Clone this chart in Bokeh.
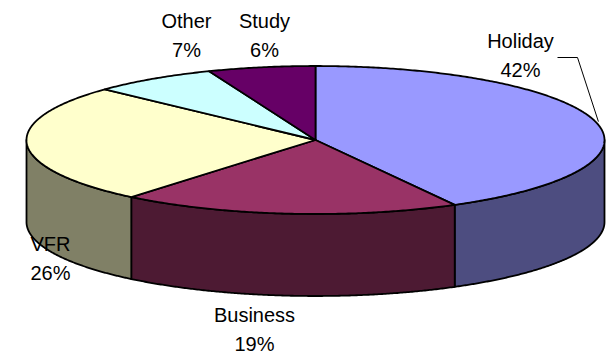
import numpy as np
from bokeh.plotting import figure
from bokeh.models import Range1d
from bokeh.core.properties import value
from bokeh.embed import file_html
from bokeh.resources import INLINE

# ---- data ----
categories = ["Holiday", "Business", "VFR", "Other", "Study"]
shares = [42, 19, 26, 7, 6]
pct_labels = ["42%", "19%", "26%", "7%", "6%"]
top_colors = ["#9999FF", "#993366", "#FFFFCC", "#CCFFFF", "#660066"]
side_colors = ["#4D4D80", "#4D1A33", "#808066", "#668080", "#330033"]

# ---- layout (pixels) ----
W, H = 616, 356
CX, CY, RX, RY, DEPTH = 315.0, 139.5, 289.0, 74.0, 82.0
LABEL_POS = {
    "Holiday": (520, 40),
    "Business": (254, 314),
    "VFR": (50, 243),
    "Other": (186, 20),
    "Study": (264, 20),
}
LINE_GAP = 29
FONT = "Liberation Sans"
FSIZE = "20px"


def pt(theta_deg, dy=0.0):
    t = np.radians(theta_deg)
    return CX + RX * np.sin(t), CY - RY * np.cos(t) + dy


p = figure(width=W, height=H, output_backend="svg", toolbar_location=None,
           x_range=Range1d(0, W), y_range=Range1d(H, 0),
           x_axis_location=None, y_axis_location=None, min_border=0)
p.grid.visible = False
p.outline_line_color = None
p.background_fill_color = "white"
p.border_fill_color = "white"

# slice angles (clockwise from 12 o'clock)
total = float(sum(shares))
bounds = np.concatenate([[0.0], np.cumsum(shares) / total * 360.0])

# side walls (front half only: 90..270 deg)
sxs, sys, scol = [], [], []
for i in range(len(categories)):
    a1, a2 = bounds[i], bounds[i + 1]
    lo, hi = max(a1, 90.0), min(a2, 270.0)
    if hi <= lo:
        continue
    th = np.linspace(lo, hi, 200)
    tx, ty = pt(th)
    bx, by = pt(th[::-1], DEPTH)
    sxs.append(list(tx) + list(bx))
    sys.append(list(ty) + list(by))
    scol.append(side_colors[i])
p.patches(xs=sxs, ys=sys, fill_color=scol, line_color="black", line_width=1.8,
          line_join="round")

# top faces
txs, tys = [], []
for i in range(len(categories)):
    a1, a2 = bounds[i], bounds[i + 1]
    th = np.linspace(a1, a2, max(int((a2 - a1) * 2), 10))
    ax, ay = pt(th)
    txs.append([CX] + list(ax))
    tys.append([CY] + list(ay))
p.patches(xs=txs, ys=tys, fill_color=top_colors, line_color="black",
          line_width=1.8, line_join="round")

# leader line for Holiday
mid = (bounds[0] + bounds[1]) / 2
ex, ey = pt(mid)
hx, hy = LABEL_POS["Holiday"]
p.line(x=[hx + 37, hx + 57, ex + 3], y=[hy + 17, hy + 17, ey],
       line_color="black", line_width=1)

# labels
lx, ly, lt = [], [], []
for cat, pc in zip(categories, pct_labels):
    x, y = LABEL_POS[cat]
    lx += [x, x]
    ly += [y, y + LINE_GAP]
    lt += [cat, pc]
p.text(x=lx, y=ly, text=lt, text_align="center", text_baseline="middle",
       text_font=value(FONT), text_font_size=FSIZE, text_color="black")

open("out.html", "w").write(file_html(p, INLINE))
